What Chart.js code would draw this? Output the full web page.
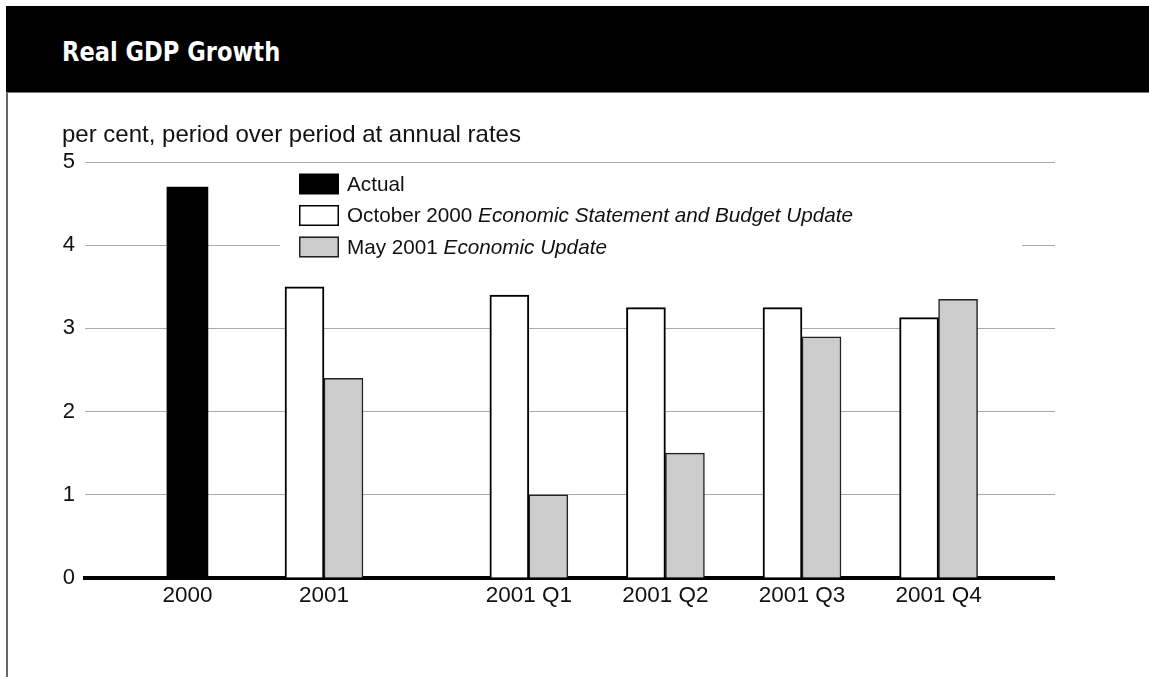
<!DOCTYPE html>
<html>
<head>
<meta charset="utf-8">
<title>Real GDP Growth</title>
<script src="https://cdn.jsdelivr.net/npm/chart.js@4.4.1/dist/chart.umd.min.js"></script>
<style>
  body { margin: 0; background: #fff; }
  #page { position: relative; width: 1149px; height: 677px; overflow: hidden; }
  #header { position: absolute; left: 6px; top: 6px; right: 0; height: 86px; background: #000; border-bottom: 1px solid #777; z-index: 2; }
  #header h1 { margin: 0; position: absolute; left: 56px; top: 32px; line-height: 27px; color: #fff; font-weight: bold; font-size: 27px; font-family: "Liberation Sans Narrow", "DejaVu Sans Condensed", sans-serif; transform: scaleX(0.93); transform-origin: 0 0; white-space: nowrap; }
  #frame { position: absolute; left: 6px; top: 93px; bottom: 0; width: 0; border-left: 2px solid #666; z-index: 2; }
  #units { position: absolute; left: 62px; top: 120px; font: 24px "Liberation Sans", Arial, sans-serif; color: #111; z-index: 2; white-space: nowrap; }
  canvas { position: absolute; left: 0; top: 0; }
</style>
</head>
<body>
<div id="page">
  <canvas id="gdpChart" width="1149" height="677"></canvas>
  <div id="header"><h1>Real GDP Growth</h1></div>
  <div id="frame"></div>
  <div id="units">per cent, period over period at annual rates</div>
</div>
<script>
// blank slots keep the spacing between the annual and quarterly groups
const categories = ['', '2000', '', '2001', '', '', '2001 Q1', '', '2001 Q2', '', '2001 Q3', '', '2001 Q4', ''];
const actual     = [null, 4.7, null, null, null, null, null, null, null, null, null, null, null, null];
const october    = [null, null, null, 3.5, null, null, 3.4, null, 3.25, null, 3.25, null, 3.13, null];
const may        = [null, null, null, 2.4, null, null, 1.0, null, 1.5, null, 2.9, null, 3.35, null];

const seriesNames  = ['Actual', 'October 2000 ', 'May 2001 '];
const seriesTitles = ['', 'Economic Statement and Budget Update', 'Economic Update'];
const yTicks = [0, 1, 2, 3, 4, 5];

const FONT = '"Liberation Sans", Arial, sans-serif';
const isZero = c => c.tick && c.tick.value === 0;

// legend box sitting inside the plot, over the gridlines
const boxLegend = {
  id: 'boxLegend',
  afterDraw(chart) {
    const { ctx, chartArea: a } = chart;
    const left = a.left + 195, top = a.top + 6;
    ctx.save();
    ctx.fillStyle = '#fff';
    ctx.fillRect(left, top, 742, 96);
    ctx.textBaseline = 'middle';
    chart.data.datasets.forEach((ds, i) => {
      const cy = a.top + 22 + i * 31.5;
      const sx = left + 19, sw = 40, sh = 21;
      ctx.fillStyle = ds.backgroundColor;
      ctx.fillRect(sx, cy - sh / 2, sw, sh);
      if (ds.borderWidth) {
        ctx.strokeStyle = ds.borderColor;
        ctx.lineWidth = 1.5;
        ctx.strokeRect(sx + 0.75, cy - sh / 2 + 0.75, sw - 1.5, sh - 1.5);
      }
      let tx = sx + 48;
      ctx.fillStyle = '#111';
      ctx.font = '20.7px ' + FONT;
      ctx.fillText(seriesNames[i], tx, cy + 1);
      tx += ctx.measureText(seriesNames[i]).width;
      if (seriesTitles[i]) {
        ctx.font = 'italic 20.7px ' + FONT;
        ctx.fillText(seriesTitles[i], tx, cy + 1);
      }
    });
    ctx.restore();
  }
};

new Chart(document.getElementById('gdpChart').getContext('2d'), {
  type: 'bar',
  data: {
    labels: categories,
    datasets: [
      { label: seriesNames[0], data: actual, backgroundColor: '#000', borderColor: '#000', borderWidth: 0, barThickness: 41 },
      { label: seriesNames[1], data: october, backgroundColor: '#fff', borderColor: '#000', borderWidth: 2 },
      { label: seriesNames[2], data: may, backgroundColor: '#cccccc', borderColor: '#222', borderWidth: 1.5 }
    ]
  },
  options: {
    responsive: false,
    animation: false,
    events: [],
    layout: { padding: { left: 55, right: 94, top: 162, bottom: 59 } },
    datasets: { bar: { barThickness: 39, skipNull: true } },
    plugins: {
      legend: { display: false },
      tooltip: { enabled: false }
    },
    scales: {
      x: {
        z: 1,
        grid: { display: false, drawTicks: false },
        border: { display: true, color: '#000', width: 4 },
        ticks: { color: '#111', font: { family: FONT, size: 22.5 }, padding: 4, autoSkip: false, maxRotation: 0 },
        afterFit(s) { s.height = 40; }
      },
      y: {
        min: 0,
        max: 5,
        afterBuildTicks(s) { s.ticks = yTicks.map(v => ({ value: v })); },
        grid: { color: '#aaa', lineWidth: 1, drawTicks: false },
        border: { display: false },
        ticks: { color: '#111', font: { family: FONT, size: 22 }, padding: 10 },
        afterFit(s) { s.width = 30; }
      },
      // right-hand stubs carry the gridlines and the zero line past the last bars
      y2: {
        position: 'right',
        min: 0,
        max: 5,
        afterBuildTicks(s) { s.ticks = yTicks.map(v => ({ value: v })); },
        grid: {
          drawOnChartArea: false,
          drawTicks: true,
          tickLength: 14,
          color: c => isZero(c) ? '#000' : '#aaa',
          lineWidth: c => isZero(c) ? 4 : 1
        },
        border: { display: false },
        ticks: { display: false },
        afterFit(s) { s.width = 14; }
      }
    }
  },
  plugins: [boxLegend]
});
</script>
</body>
</html>
